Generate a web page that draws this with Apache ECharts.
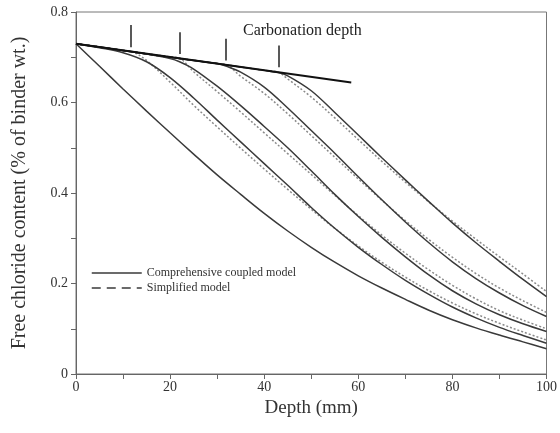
<!DOCTYPE html>
<html><head><meta charset="utf-8">
<script src="https://cdn.jsdelivr.net/npm/echarts@6/dist/echarts.min.js"></script>
<style>html,body{margin:0;padding:0;background:#fff}#c{width:560px;height:433px}</style>
</head><body><div id="c"></div>
<script>
// x positions (mm) and free chloride content values
const xA = [0,5,10,15,20,25,30,35,40,45,50,55,60,65,70,75,80,85,90,95,100];
const yA = [0.73,0.680,0.630,0.581,0.533,0.486,0.440,0.397,0.355,0.316,0.280,0.247,0.217,0.190,0.165,0.141,0.120,0.102,0.086,0.071,0.056];

const xB = [0,5,10,15,20,25,30,35,40,45,50,55,60,65,70,75,80,85,90,95,100];
const yB = [0.73,0.721,0.710,0.690,0.655,0.610,0.561,0.513,0.465,0.417,0.368,0.322,0.280,0.242,0.207,0.176,0.148,0.124,0.103,0.085,0.068];
const xBs = [0,5,10,12,15,20,25,30,35,40,45,50,55,60,65,70,75,80,85,90,95,100];
const yBs = [0.73,0.723,0.715,0.712,0.693,0.645,0.594,0.546,0.499,0.453,0.408,0.364,0.322,0.283,0.247,0.214,0.184,0.157,0.133,0.112,0.093,0.075];

const xC = [0,10,15,20,22,25,30,35,40,45,50,55,60,65,70,75,80,85,90,95,100];
const yC = [0.73,0.715,0.707,0.697,0.690,0.674,0.636,0.593,0.547,0.500,0.449,0.397,0.348,0.302,0.259,0.219,0.184,0.155,0.131,0.111,0.094];
const xCs = [0,10,20,22,25,30,35,40,45,50,55,60,65,70,75,80,85,90,95,100];
const yCs = [0.73,0.715,0.701,0.698,0.668,0.624,0.579,0.533,0.487,0.441,0.395,0.350,0.307,0.267,0.230,0.196,0.166,0.140,0.119,0.100];

const xD = [0,10,20,30,32,35,40,45,50,55,60,65,70,75,80,85,90,95,100];
const yD = [0.73,0.715,0.700,0.686,0.680,0.667,0.634,0.588,0.538,0.488,0.436,0.385,0.336,0.290,0.248,0.211,0.179,0.151,0.127];
const xDs = [0,10,20,30,32,35,40,45,50,55,60,65,70,75,80,85,90,95,100];
const yDs = [0.73,0.715,0.700,0.686,0.683,0.658,0.620,0.575,0.527,0.479,0.431,0.384,0.339,0.297,0.258,0.222,0.190,0.162,0.136];

const xE = [0,10,20,30,40,43,45,50,55,60,65,70,75,80,85,90,95,100];
const yE = [0.73,0.715,0.700,0.686,0.671,0.666,0.659,0.626,0.578,0.528,0.478,0.429,0.381,0.334,0.290,0.249,0.209,0.171];
const yEs = [0.73,0.715,0.700,0.686,0.671,0.667,0.652,0.612,0.566,0.518,0.470,0.424,0.380,0.338,0.298,0.259,0.221,0.182];

const xCarb = [0, 58.5];
const yCarb = [0.73, 0.644];

const carbDepths = [11.6, 22.1, 31.9, 43.0];
const tickLow = [0.722, 0.707, 0.693, 0.678];
const tickHigh = [0.771, 0.755, 0.741, 0.726];

const xTicks = [0,20,40,60,80,100];
const yTicks = [0,0.2,0.4,0.6,0.8];

const NAME_SOLID = 'Comprehensive coupled model';
const NAME_DASH = 'Simplified model';
const FONT = '"Liberation Serif","Times New Roman",serif';

function pairs(xs, ys){ return xs.map((x,i)=>[x, ys[i]]); }

function solid(xs, ys){
  return {type:'line', name:NAME_SOLID, data:pairs(xs,ys), symbol:'none', smooth:0.35,
    itemStyle:{color:'#3a3a3a'}, lineStyle:{color:'#3a3a3a', width:1.5}, z:3};
}
function dotted(xs, ys){
  return {type:'line', name:NAME_DASH, data:pairs(xs,ys), symbol:'none', smooth:0.35,
    itemStyle:{color:'#8a8a8a'}, lineStyle:{color:'#8a8a8a', width:1.5, type:[2,2]}, z:2};
}

const chart = echarts.init(document.getElementById('c'), null, {renderer:'canvas'});
chart.setOption({
  animation:false,
  backgroundColor:'#fff',
  textStyle:{fontFamily:FONT},
  grid:{left:76, right:10, top:12, bottom:59, show:true, borderColor:'#777', borderWidth:1},
  legend:{
    show:true, orient:'vertical', left:91, top:267, padding:0, itemWidth:50, itemHeight:14, itemGap:3,
    textStyle:{fontFamily:FONT, fontSize:12, color:'#333'},
    data:[
      {name:NAME_SOLID, itemStyle:{opacity:0}, lineStyle:{color:'#3a3a3a', width:1.5, type:'solid'}},
      {name:NAME_DASH, itemStyle:{opacity:0}, lineStyle:{color:'#3a3a3a', width:1.5, type:[9,6]}}
    ]
  },
  xAxis:{
    type:'value', min:0, max:100, interval:20,
    name:'Depth (mm)', nameLocation:'middle', nameGap:24,
    nameTextStyle:{fontFamily:FONT, fontSize:19, color:'#333'},
    axisLine:{show:true, lineStyle:{color:'#666', width:1}},
    axisTick:{show:true, length:5, lineStyle:{color:'#666'}},
    minorTick:{show:true, splitNumber:2, length:5, lineStyle:{color:'#666'}},
    axisLabel:{fontFamily:FONT, fontSize:14, color:'#333', margin:6,
      formatter:v=> xTicks.includes(v) ? String(v) : ''},
    splitLine:{show:false}
  },
  yAxis:{
    type:'value', min:0, max:0.8, interval:0.2,
    name:'Free chloride content (% of binder wt.)', nameLocation:'middle', nameGap:46,
    nameTextStyle:{fontFamily:FONT, fontSize:20, color:'#333'},
    axisLine:{show:true, lineStyle:{color:'#666', width:1}},
    axisTick:{show:true, length:5, lineStyle:{color:'#666'}},
    minorTick:{show:true, splitNumber:2, length:5, lineStyle:{color:'#666'}},
    axisLabel:{fontFamily:FONT, fontSize:14, color:'#333', margin:8,
      formatter:v=>{ const r=Math.round(v*10)/10; return yTicks.some(t=>Math.abs(t-r)<1e-9) ? (r===0?'0':r.toFixed(1)) : ''; }},
    splitLine:{show:false}
  },
  graphic:[
    {type:'text', left:243, top:23, style:{text:'Carbonation depth', fontFamily:FONT, fontSize:16, fill:'#222'}}
  ],
  series:[
    dotted(xBs,yBs), dotted(xCs,yCs), dotted(xDs,yDs), dotted(xE,yEs),
    solid(xA,yA), solid(xB,yB), solid(xC,yC), solid(xD,yD), solid(xE,yE),
    {type:'line', name:'carbonation', data:pairs(xCarb,yCarb), symbol:'none',
      itemStyle:{color:'#111'}, lineStyle:{color:'#111', width:2}, z:4, silent:true,
      markLine:{symbol:'none', silent:true, label:{show:false},
        lineStyle:{color:'#222', width:1.5, type:'solid'},
        data: carbDepths.map((d,i)=>[{coord:[d,tickLow[i]]},{coord:[d,tickHigh[i]]}])}
    }
  ]
});
</script></body></html>
